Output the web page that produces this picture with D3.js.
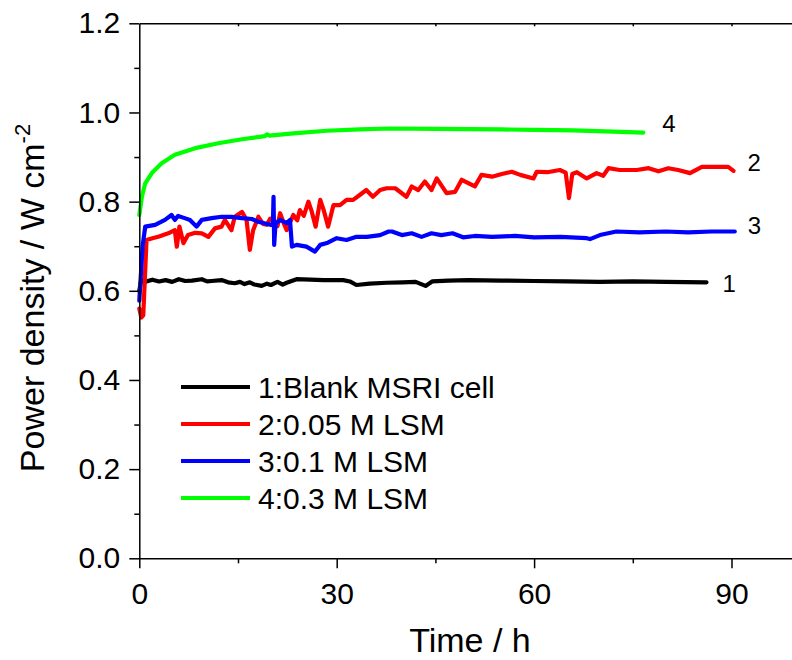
<!DOCTYPE html>
<html>
<head>
<meta charset="utf-8">
<script src="https://cdn.jsdelivr.net/npm/d3@7/dist/d3.min.js"></script>
<style>
  body { margin: 0; background: #fff; }
  svg text { font-family: "Liberation Sans", Arial, sans-serif; fill: #000; }
  .os path, .os line { stroke: #000; stroke-width: 1.5; }
  .linija { fill: none; stroke-width: 4.2; stroke-linejoin: round; stroke-linecap: round; }
</style>
</head>
<body>
<div id="okvir"></div>
<script>
// podatci ocitani sa slike: [vrijeme / h, gustoca snage / W cm^-2]
const crna = [[0,0.60],[0.3,0.625],[0.8,0.62],[2,0.625],[3,0.621],[4,0.624],[5,0.620],[6,0.626],[7,0.622],[8,0.623],[9.5,0.626],[10.3,0.621],[11,0.622],[12.5,0.624],[13.5,0.619],[14.5,0.617],[15.3,0.620],[16,0.615],[16.8,0.619],[17.5,0.614],[18.6,0.611],[19.4,0.616],[20,0.613],[21,0.620],[21.8,0.614],[22.4,0.618],[23.9,0.626],[26,0.625],[28,0.624],[31,0.624],[32,0.621],[33,0.613],[35,0.616],[37.6,0.618],[40,0.619],[42,0.620],[43.5,0.611],[44.5,0.621],[47,0.623],[50,0.624],[55,0.623],[60,0.622],[65,0.621],[70,0.620],[75,0.621],[80,0.620],[86.2,0.619]];

const crvena = [[0,0.56],[0.3,0.54],[0.6,0.545],[1.1,0.714],[2,0.718],[3,0.722],[4.4,0.729],[5.4,0.736],[5.7,0.699],[6.1,0.744],[6.7,0.707],[7.4,0.725],[8.5,0.73],[9.5,0.729],[10.5,0.721],[11.5,0.740],[12.5,0.744],[13,0.759],[14,0.736],[14.5,0.766],[15.6,0.777],[16.3,0.759],[16.8,0.692],[17.3,0.736],[18.1,0.766],[18.8,0.750],[19.4,0.748],[19.9,0.762],[20.4,0.759],[21,0.745],[21.4,0.774],[22,0.750],[22.4,0.736],[23.4,0.770],[24,0.758],[24.4,0.781],[25,0.768],[25.7,0.800],[26.2,0.778],[26.8,0.744],[27.5,0.804],[28,0.782],[28.7,0.744],[29.5,0.792],[30.5,0.792],[31.5,0.804],[32.5,0.804],[33.5,0.815],[34.5,0.826],[35.5,0.811],[36.6,0.826],[37.6,0.830],[38.9,0.830],[40.6,0.811],[41.4,0.834],[42.4,0.826],[43.4,0.845],[44.4,0.826],[45.2,0.852],[46.7,0.819],[48,0.822],[49,0.849],[51,0.834],[52,0.860],[53.6,0.856],[55.1,0.862],[56.6,0.867],[57.9,0.860],[59.9,0.852],[60.4,0.867],[62,0.866],[63.9,0.871],[64.8,0.865],[65.3,0.808],[65.8,0.862],[66.5,0.866],[68,0.852],[69.5,0.864],[70.5,0.858],[71.3,0.875],[73,0.871],[75.6,0.871],[77.4,0.875],[78.9,0.868],[80.4,0.875],[81.9,0.871],[83.7,0.864],[85.5,0.878],[87.5,0.878],[89.5,0.878],[90.3,0.869]];

const plava = [[0,0.578],[0.5,0.70],[0.9,0.744],[2.4,0.748],[3.9,0.759],[4.9,0.770],[5.4,0.759],[5.9,0.768],[6.9,0.763],[7.7,0.759],[8.7,0.744],[9.5,0.759],[11,0.763],[12.5,0.766],[14,0.766],[15.6,0.763],[17.1,0.761],[18.1,0.755],[19.9,0.748],[20.3,0.748],[20.4,0.811],[20.5,0.703],[20.7,0.750],[21.4,0.759],[22.4,0.752],[22.9,0.759],[23.2,0.699],[23.9,0.703],[25.4,0.699],[26.7,0.688],[27.5,0.703],[28.5,0.707],[30,0.718],[31.5,0.714],[33,0.721],[34.6,0.721],[36.6,0.725],[37.9,0.733],[38.4,0.733],[39.9,0.725],[41.4,0.729],[42.9,0.721],[44.4,0.729],[45.9,0.725],[47.6,0.729],[49.2,0.720],[51,0.723],[53.6,0.721],[57.1,0.723],[60,0.720],[64,0.721],[68,0.718],[68.5,0.716],[70,0.725],[72.5,0.733],[76,0.731],[80,0.733],[83.4,0.731],[87,0.733],[90.5,0.733]];

const zelena = [[0,0.77],[0.4,0.811],[0.9,0.841],[1.9,0.864],[3.4,0.886],[5.4,0.905],[8.5,0.920],[12,0.931],[15.6,0.940],[19.1,0.947],[19.4,0.951],[19.8,0.948],[23.4,0.953],[28.5,0.959],[33.5,0.962],[38.1,0.964],[45,0.963],[55,0.962],[60,0.961],[66,0.960],[72,0.957],[76.6,0.955]];

const nazivi = ["1:Blank MSRI cell", "2:0.05 M LSM", "3:0.1 M LSM", "4:0.3 M LSM"];
const oznake = ["1", "2", "3", "4"];
const boje = ["#000000", "#ff0000", "#0000ff", "#00ff00"];
const serije = [crna, crvena, plava, zelena];

const xGlavni = [0, 30, 60, 90];
const xSporedni = [15, 45, 75];
const yGlavni = [0, 0.2, 0.4, 0.6, 0.8, 1.0, 1.2];
const ySporedni = [0.1, 0.3, 0.5, 0.7, 0.9, 1.1];

const dimenzije = {
  width: 792,
  height: 660,
  margin: { top: 23.3, left: 139.3 },
  boundsWidth: 658,
  boundsHeight: 535
};

const okvir = d3.select("#okvir")
  .append("svg")
    .attr("width", dimenzije.width)
    .attr("height", dimenzije.height);

const granice = okvir.append("g")
  .attr("transform", `translate(${dimenzije.margin.left},${dimenzije.margin.top})`);

const xMjerilo = d3.scaleLinear()
  .domain([0, 100])
  .range([0, dimenzije.boundsWidth]);

const yMjerilo = d3.scaleLinear()
  .domain([0, 1.2])
  .range([dimenzije.boundsHeight, 0]);

// linije podataka
const generatorLinije = d3.line()
  .x(d => xMjerilo(d[0]))
  .y(d => yMjerilo(d[1]));

serije.forEach((s, i) => {
  granice.append("path")
    .attr("class", "linija")
    .attr("stroke", boje[i])
    .attr("d", generatorLinije(s));
});

// osi
const fontVel = 30;

granice.append("g")
  .attr("class", "os")
  .attr("transform", `translate(0,${dimenzije.boundsHeight})`)
  .call(d3.axisBottom(xMjerilo).tickValues(xSporedni).tickSize(5).tickFormat(""))
  .call(g => g.select(".domain").remove());

granice.append("g")
  .attr("class", "os")
  .attr("transform", `translate(0,${dimenzije.boundsHeight})`)
  .call(d3.axisBottom(xMjerilo).tickValues(xGlavni).tickSize(10).tickSizeOuter(0).tickPadding(14).tickFormat(d3.format("d")))
  .call(g => g.selectAll("text").attr("font-size", fontVel));

granice.append("g")
  .attr("class", "os")
  .call(d3.axisTop(xMjerilo).tickValues(d3.range(15, 100, 15)).tickSize(-3).tickSizeOuter(0).tickFormat(""));

granice.append("g")
  .attr("class", "os")
  .call(d3.axisLeft(yMjerilo).tickValues(ySporedni).tickSize(5).tickFormat(""))
  .call(g => g.select(".domain").remove());

granice.append("g")
  .attr("class", "os")
  .call(d3.axisLeft(yMjerilo).tickValues(yGlavni).tickSize(10).tickSizeOuter(0).tickPadding(9).tickFormat(d3.format(".1f")))
  .call(g => g.selectAll("text").attr("font-size", fontVel));

// oznake osi
okvir.append("text")
  .attr("x", 470)
  .attr("y", 652)
  .attr("text-anchor", "middle")
  .attr("font-size", 34)
  .text("Time / h");

const yOznaka = okvir.append("text")
  .attr("transform", "translate(44,298) rotate(-90)")
  .attr("text-anchor", "middle")
  .attr("font-size", 34);
yOznaka.append("tspan").text("Power density / W cm");
yOznaka.append("tspan").attr("dy", -14).attr("font-size", 22).text("-2");

// brojevi na krajevima krivulja
const pomaci = [[16, 3], [14, -6], [13, -4], [19, -7]];
serije.forEach((s, i) => {
  const zadnji = s[s.length - 1];
  granice.append("text")
    .attr("x", xMjerilo(zadnji[0]) + pomaci[i][0])
    .attr("y", yMjerilo(zadnji[1]) + pomaci[i][1])
    .attr("dominant-baseline", "middle")
    .attr("font-size", 24)
    .text(oznake[i]);
});

// legenda
const legenda = okvir.append("g")
  .attr("transform", "translate(181,387)");

nazivi.forEach((n, i) => {
  const red = legenda.append("g").attr("transform", `translate(0,${i * 37})`);
  red.append("line")
    .attr("x1", 0).attr("x2", 69)
    .attr("stroke", boje[i])
    .attr("stroke-width", 4);
  red.append("text")
    .attr("x", 77)
    .attr("dy", "0.35em")
    .attr("font-size", fontVel)
    .text(n);
});
</script>
</body>
</html>
